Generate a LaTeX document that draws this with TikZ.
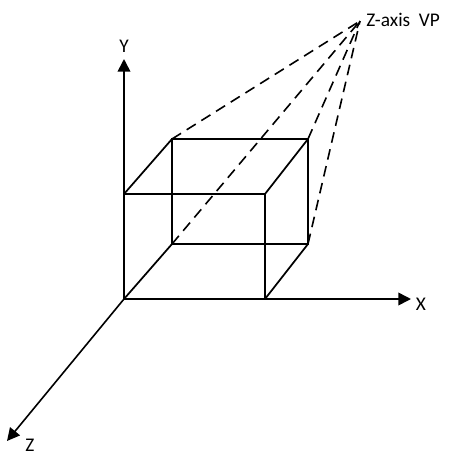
\documentclass[tikz,border=0pt]{standalone}
\usepackage{fontspec}
\setmainfont{Carlito}
\usetikzlibrary{arrows.meta}

\begin{document}
\begin{tikzpicture}[
  x=.75pt,y=-.75pt,
  edge/.style={line width=1.3pt},
  axisline/.style={line width=1.2pt,-{Triangle[length=9.5pt,width=9.5pt]}},
  vpline/.style={line width=1.2pt,dash pattern=on 8pt off 5pt},
  lbl/.style={inner sep=0pt,font=\fontsize{14.5pt}{16pt}\selectfont}
]
\useasboundingbox (0,0) rectangle (455,455);
% axes
\coordinate (o) at (124,299);
\node[lbl] (xlbl) at (421,304) {X};
\node[lbl] (ylbl) at (124,46) {Y};
\node[lbl] (zlbl) at (30,445) {Z};
\node[lbl,anchor=west] (vplbl) at (366,20) {Z-axis\ \ VP};
\coordinate (xend) at (411,299);
\coordinate (yend) at (124,59);
\coordinate (zend) at (7,441);
\coordinate (vp) at (360,21);
% box corners
\coordinate (f1) at (265,299);
\coordinate (f2) at (265,194);
\coordinate (f3) at (124,194);
\coordinate (b0) at (172,244);
\coordinate (b1) at (308,244);
\coordinate (b2) at (308,139);
\coordinate (b3) at (172,139);
\draw[axisline] (o)--(xend);
\draw[axisline] (o)--(yend);
\draw[axisline] (o)--(zend);
\draw[edge] (o)--(f1)--(f2)--(f3)--cycle;
\draw[edge] (b0)--(b1)--(b2)--(b3)--cycle;
\draw[edge] (o)--(b0);\draw[edge] (f1)--(b1);\draw[edge] (f2)--(b2);\draw[edge] (f3)--(b3);
\draw[vpline] (b3)--(vp);\draw[vpline] (b0)--(vp);\draw[vpline] (b2)--(vp);\draw[vpline] (b1)--(vp);
\end{tikzpicture}
\end{document}
